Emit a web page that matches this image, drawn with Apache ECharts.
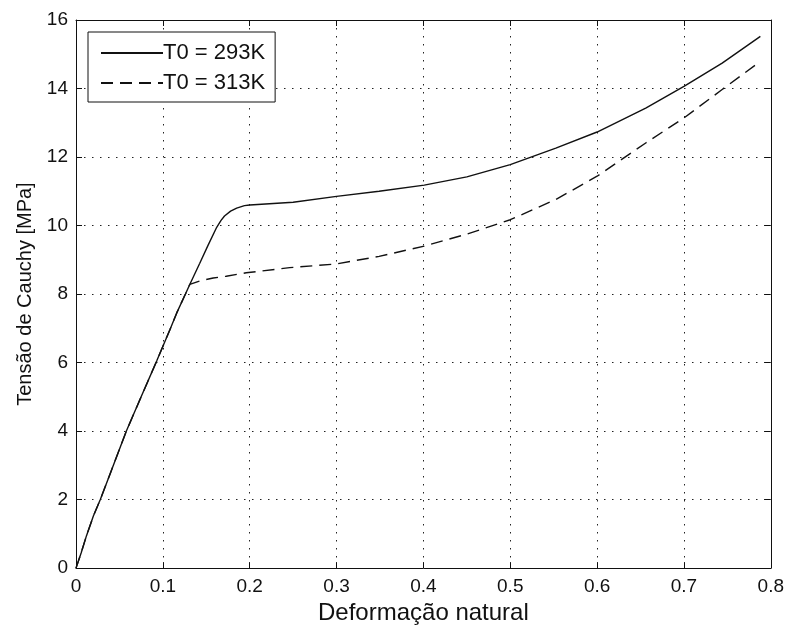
<!DOCTYPE html>
<html>
<head>
<meta charset="utf-8">
<script src="https://cdn.jsdelivr.net/npm/echarts@6/dist/echarts.min.js"></script>
<style>
html,body{margin:0;padding:0;background:#fff;}
#chart{width:787px;height:630px;}
</style>
</head>
<body>
<div id="chart"></div>
<script>
// Data
var seriesNames = ['T0 = 293K', 'T0 = 313K'];
var strain293 = [0, 0.006, 0.012, 0.02, 0.028, 0.04, 0.058, 0.075, 0.093, 0.108, 0.116, 0.126, 0.131, 0.1425, 0.152, 0.162, 0.167, 0.171, 0.178, 0.185, 0.194, 0.2, 0.25, 0.3, 0.349, 0.401, 0.45, 0.5, 0.5525, 0.6, 0.656, 0.7, 0.744, 0.788];
var stress293 = [0, 0.45, 0.94, 1.52, 2.0, 2.8, 4.0, 5.0, 6.05, 6.95, 7.45, 8.0, 8.28, 8.9, 9.42, 9.95, 10.15, 10.28, 10.42, 10.51, 10.58, 10.6, 10.68, 10.85, 11.0, 11.18, 11.42, 11.78, 12.26, 12.73, 13.43, 14.06, 14.74, 15.52];
var strain313 = [0, 0.006, 0.012, 0.02, 0.028, 0.04, 0.058, 0.075, 0.093, 0.108, 0.116, 0.126, 0.131, 0.1425, 0.158, 0.173, 0.196, 0.246, 0.3, 0.349, 0.401, 0.45, 0.5, 0.5525, 0.6, 0.656, 0.7, 0.744, 0.788];
var stress313 = [0, 0.45, 0.94, 1.52, 2.0, 2.8, 4.0, 5.0, 6.05, 6.95, 7.45, 8.0, 8.28, 8.38, 8.47, 8.52, 8.62, 8.77, 8.88, 9.1, 9.40, 9.75, 10.17, 10.76, 11.44, 12.41, 13.14, 13.97, 14.79];
var xTicks = {min: 0, max: 0.8, interval: 0.1};
var yTicks = {min: 0, max: 16, interval: 2};
var xName = 'Deformação natural';
var yName = 'Tensão de Cauchy [MPa]';

function pairs(xs, ys) { return xs.map(function (x, i) { return [x, ys[i]]; }); }

var FONT = '"Liberation Sans", Arial, Helvetica, sans-serif';
var chart = echarts.init(document.getElementById('chart'), null, {renderer: 'canvas'});

var gridLine = {show: true, lineStyle: {color: '#222', width: 1, type: [1.5, 6.5]}};
var axisLine = {show: true, onZero: false, lineStyle: {color: '#111', width: 1}};
var tickIn = {show: true, inside: true, length: 6, lineStyle: {color: '#111', width: 1}};

chart.setOption({
  animation: false,
  backgroundColor: '#fff',
  grid: {left: 76, right: 15, top: 20, bottom: 61, containLabel: false},
  legend: {
    left: 88, top: 32,
    orient: 'vertical',
    backgroundColor: '#fff',
    borderColor: '#111', borderWidth: 1, borderRadius: 0,
    padding: [10, 10, 8, 12],
    itemWidth: 62, itemHeight: 20, itemGap: 8,
    itemStyle: {opacity: 0},
    textStyle: {fontFamily: FONT, fontSize: 22, color: '#111', padding: [0, 0, 0, -5]},
    data: seriesNames
  },
  xAxis: [{
    type: 'value', min: xTicks.min, max: xTicks.max, interval: xTicks.interval,
    position: 'bottom',
    name: xName, nameLocation: 'middle', nameGap: 32,
    nameTextStyle: {fontFamily: FONT, fontSize: 24, color: '#111'},
    axisLine: axisLine, axisTick: tickIn,
    axisLabel: {fontFamily: FONT, fontSize: 19, color: '#111', margin: 9, formatter: function (v) { return +v.toFixed(1) + ''; }},
    splitLine: gridLine
  }, {
    type: 'value', min: xTicks.min, max: xTicks.max, interval: xTicks.interval,
    position: 'top',
    axisLine: axisLine, axisTick: tickIn, axisLabel: {show: false}, splitLine: {show: false}
  }],
  yAxis: [{
    type: 'value', min: yTicks.min, max: yTicks.max, interval: yTicks.interval,
    position: 'left',
    name: yName, nameLocation: 'middle', nameGap: 40,
    nameTextStyle: {fontFamily: FONT, fontSize: 20, color: '#111'},
    axisLine: axisLine, axisTick: tickIn,
    axisLabel: {fontFamily: FONT, fontSize: 19, color: '#111', margin: 8},
    splitLine: gridLine
  }, {
    type: 'value', min: yTicks.min, max: yTicks.max, interval: yTicks.interval,
    position: 'right',
    axisLine: axisLine, axisTick: tickIn, axisLabel: {show: false}, splitLine: {show: false}
  }],
  series: [{
    name: seriesNames[0], type: 'line', xAxisIndex: 0, yAxisIndex: 0,
    data: pairs(strain293, stress293),
    showSymbol: false, symbol: 'none', smooth: false,
    lineStyle: {color: '#111', width: 1.4, type: 'solid'},
    itemStyle: {color: '#111'}, z: 5
  }, {
    name: seriesNames[1], type: 'line', xAxisIndex: 0, yAxisIndex: 0,
    data: pairs(strain313, stress313),
    showSymbol: false, symbol: 'none', smooth: false,
    lineStyle: {color: '#111', width: 1.4, type: [12, 7]},
    itemStyle: {color: '#111'}, z: 5
  }]
});
</script>
</body>
</html>
